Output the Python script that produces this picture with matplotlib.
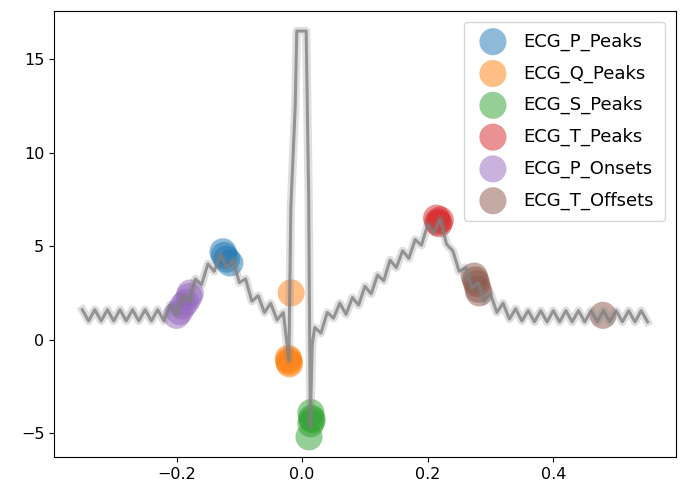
import numpy as np
import matplotlib
matplotlib.use("Agg")
import matplotlib.pyplot as plt

# Averaged heartbeat (sampled every 10 ms outside the QRS complex)
pre_t = np.round(np.arange(-0.35, -0.025, 0.01), 2)
pre_y = [1.6, 1.0, 1.6, 1.0, 1.6, 1.0, 1.6, 1.0, 1.6, 1.0,
         1.6, 1.0, 1.6, 1.0, 1.85, 1.35, 2.35, 2.05, 3.25, 2.95,
         4.05, 3.65, 4.55, 3.85, 4.25, 3.05, 3.25, 2.05, 2.35, 1.45,
         1.95, 1.05, 1.45]

qrs_t = [-0.021, -0.018, -0.011, -0.0085, 0.0065, 0.0105, 0.013, 0.016]
qrs_y = [-1.1, 7.0, 12.5, 16.5, 16.5, 7.5, -4.6, -0.3]

post_t = np.round(np.arange(0.02, 0.555, 0.01), 2)
post_y = [0.65, 0.35, 1.45, 1.15, 1.95, 1.35, 2.25, 1.85, 2.85, 2.45,
          3.45, 3.15, 4.25, 3.85, 4.75, 4.35, 5.35, 5.05, 6.15, 5.75,
          6.45, 5.1, 4.75, 3.65, 3.85, 2.75, 3.05, 2.05, 2.45, 1.45,
          1.95, 1.10, 1.65, 1.0, 1.55, 0.95, 1.55, 0.95, 1.55, 0.95,
          1.55, 0.95, 1.55, 0.95, 1.55, 0.95, 1.55, 0.95, 1.55, 0.95,
          1.55, 0.95, 1.55, 0.95]

# Detected waves of each beat
p_peaks_x = [-0.126, -0.124, -0.12, -0.115]
p_peaks_y = [4.7, 4.5, 4.3, 4.1]
q_peaks_x = [-0.022, -0.021, -0.02, -0.021, -0.0175]
q_peaks_y = [-1.0, -1.2, -1.3, -1.1, 2.5]
s_peaks_x = [0.014, 0.015, 0.014, 0.016, 0.011]
s_peaks_y = [-3.9, -4.2, -4.5, -4.3, -5.2]
t_peaks_x = [0.214, 0.216, 0.218, 0.22]
t_peaks_y = [6.5, 6.3, 6.2, 6.4]
p_onsets_x = [-0.2, -0.195, -0.19, -0.185, -0.18, -0.178]
p_onsets_y = [1.3, 1.5, 1.8, 2.0, 2.3, 2.5]
t_offsets_x = [0.274, 0.276, 0.278, 0.28, 0.282, 0.479]
t_offsets_y = [3.4, 3.2, 3.0, 2.7, 2.5, 1.3]

t = np.concatenate([pre_t, qrs_t, post_t])
sig = np.concatenate([pre_y, qrs_y, post_y])

fig, ax = plt.subplots(figsize=(6.84, 4.9), dpi=100)
fig.subplots_adjust(left=0.079, right=0.988, top=0.978, bottom=0.067)

# heartbeat traces
ax.plot(t, sig, color="grey", linewidth=6, alpha=0.25)
ax.plot(t, sig, color="grey", linewidth=2.2, alpha=0.8)

waves = [
    ("ECG_P_Peaks", p_peaks_x, p_peaks_y, "tab:blue"),
    ("ECG_Q_Peaks", q_peaks_x, q_peaks_y, "tab:orange"),
    ("ECG_S_Peaks", s_peaks_x, s_peaks_y, "tab:green"),
    ("ECG_T_Peaks", t_peaks_x, t_peaks_y, "tab:red"),
    ("ECG_P_Onsets", p_onsets_x, p_onsets_y, "tab:purple"),
    ("ECG_T_Offsets", t_offsets_x, t_offsets_y, "tab:brown"),
]
for name, xs, ys, col in waves:
    ax.scatter(xs, ys, s=380, color=col, alpha=0.5, edgecolors="none", label=name)

ax.tick_params(labelsize=11.5)
ax.legend(loc="upper right", fontsize=13, labelspacing=0.75, borderpad=0.6,
          borderaxespad=0.6, handletextpad=0.7)

fig.savefig("out.png", dpi=100)
